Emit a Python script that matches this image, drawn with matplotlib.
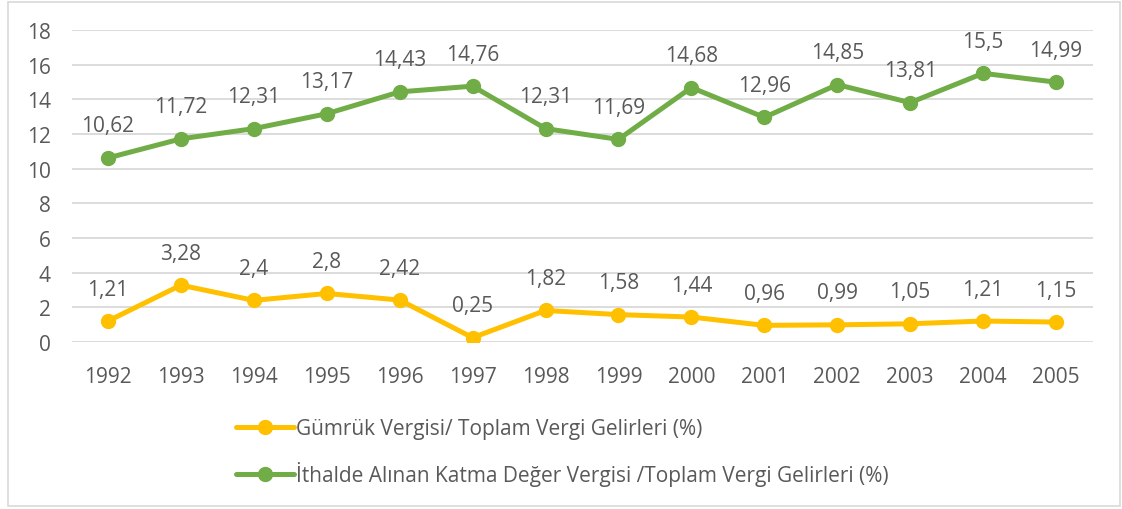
import matplotlib
matplotlib.use("Agg")
import matplotlib.pyplot as plt
from matplotlib.patches import Rectangle

years = ["1992", "1993", "1994", "1995", "1996", "1997", "1998",
         "1999", "2000", "2001", "2002", "2003", "2004", "2005"]
gumruk = [1.21, 3.28, 2.4, 2.8, 2.42, 0.25, 1.82, 1.58, 1.44, 0.96, 0.99, 1.05, 1.21, 1.15]
kdv = [10.62, 11.72, 12.31, 13.17, 14.43, 14.76, 12.31, 11.69, 14.68, 12.96, 14.85, 13.81, 15.5, 14.99]
labels = ["Gümrük Vergisi/ Toplam Vergi Gelirleri (%)",
          "İthalde Alınan Katma Değer Vergisi /Toplam Vergi Gelirleri (%)"]
yticks = [0, 2, 4, 6, 8, 10, 12, 14, 16, 18]

plt.rcParams['font.family'] = ['Open Sans', 'DejaVu Sans']
txt = '#595959'
fs = 15
W, H = 1122, 510
fig = plt.figure(figsize=(W / 100, H / 100), dpi=100)
fig.patches.append(Rectangle((8 / W, 3 / H), (1120 - 8) / W, (507 - 3) / H,
                             transform=fig.transFigure, fill=False,
                             edgecolor='#D9D9D9', linewidth=1.2, zorder=0))
ax = fig.add_axes([71.5 / W, 1 - 343 / H, (1092.5 - 71.5) / W, (343 - 31) / H])

x = list(range(len(years)))
series = [(gumruk, '#FFC000'), (kdv, '#70AD47')]
for (vals, col), lab in zip(series, labels):
    ax.plot(x, vals, color=col, linewidth=3.6, marker='o', markersize=10,
            solid_capstyle='round', label=lab, zorder=3)
    for xi, v in zip(x, vals):
        ax.annotate(f"{v:g}".replace('.', ','), (xi, v), xytext=(0, 23),
                    textcoords='offset points', ha='center', va='center',
                    fontsize=fs, color=txt)

ax.set_xlim(-0.5, len(years) - 0.5)
ax.set_ylim(0, 18)
ax.set_yticks(yticks)
ax.set_xticks(x)
ax.set_xticklabels(years)
ax.grid(axis='y', color='#D9D9D9', linewidth=1.3)
ax.set_axisbelow(True)
for s in ax.spines.values():
    s.set_visible(False)
ax.tick_params(length=0, labelsize=fs, labelcolor=txt)
ax.tick_params(axis='x', pad=17)
ax.tick_params(axis='y', pad=15)

leg = fig.legend(loc='center left', bbox_to_anchor=(236 / W, 1 - 453 / H),
                 bbox_transform=fig.transFigure, frameon=False, borderpad=0,
                 borderaxespad=0, handlelength=2.8, handletextpad=0.1,
                 labelspacing=1.05, fontsize=fs)
for t in leg.get_texts():
    t.set_color(txt)

fig.savefig('out.png', dpi=100, facecolor='white')
